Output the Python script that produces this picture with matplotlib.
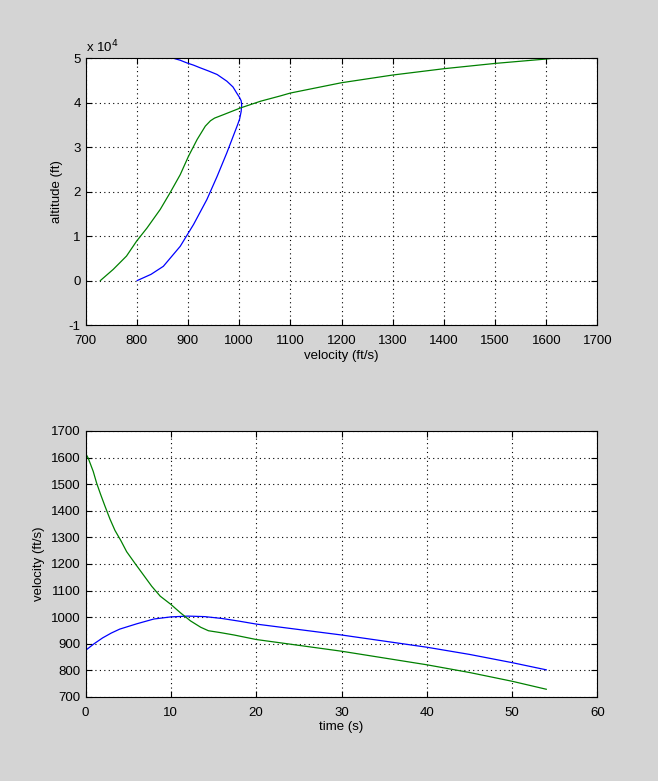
import numpy as np
import matplotlib
matplotlib.use("Agg")
import matplotlib.pyplot as plt

plt.rcParams['font.family'] = ['Liberation Sans', 'DejaVu Sans']
plt.rcParams['font.size'] = 9.5
plt.rcParams['axes.unicode_minus'] = False

# top panel: altitude vs velocity
blue_v_top = [870, 885, 898, 911, 924, 940, 957, 976, 988, 996, 1001, 1004, 1005, 1004, 1001,
              997, 993, 976, 957, 937, 911, 885, 852, 828, 801]
blue_h_top = [50000, 49500, 48900, 48400, 47800, 47100, 46300, 44800, 43500, 42000, 41100,
              40400, 39500, 38000, 36300, 35000, 33800, 28700, 23400, 18200, 12600, 7700,
              3200, 1400, 0]
green_v_top = [729, 754, 780, 800, 820, 846, 865, 885, 901, 918, 934, 944, 952, 970, 1003,
               1042, 1081, 1100, 1200, 1300, 1400, 1500, 1600, 1616]
green_h_top = [0, 2500, 5500, 8900, 11800, 16000, 19700, 23800, 27900, 31700, 34700, 35900,
               36500, 37300, 38800, 40300, 41500, 42130, 44450, 46180, 47600, 48790, 49780,
               50000]

# bottom panel: velocity vs time
blue_t = [0, 1, 2, 3, 4, 6, 8, 10, 12, 14, 16, 18, 20, 30, 40, 45, 50, 54]
blue_v = [875, 900, 922, 940, 955, 975, 993, 1001, 1004, 1002, 995, 985, 974, 933, 887, 860,
          829, 802]
green_t = [0, 0.31, 0.9, 1.29, 1.76, 2.27, 2.86, 3.45, 4.12, 4.82, 5.8, 6.78, 7.76, 8.75,
           10.0, 11.1, 12.3, 13.5, 14.4, 15.8, 17.4, 20, 30, 40, 45, 50, 54]
green_v = [1616, 1598, 1548, 1505, 1462, 1418, 1369, 1326, 1289, 1246, 1202, 1159, 1116, 1079,
           1048, 1017, 986, 962, 949, 942, 933, 916, 872, 821, 792, 759, 729]

BG = '#d4d4d4'
BLUE = '#0000ff'
GREEN = '#008000'

fig = plt.figure(figsize=(6.58, 7.81), dpi=100, facecolor=BG)
ax1 = fig.add_axes([0.13, 0.5838, 0.778, 0.3419])
ax2 = fig.add_axes([0.13, 0.1076, 0.778, 0.3406])


def style(ax):
    ax.set_facecolor('white')
    ax.grid(True, color='black', linestyle=(0, (1, 3)), linewidth=0.8)
    ax.tick_params(direction='in', top=True, right=True, length=4, width=0.8, colors='black')
    ax.tick_params(axis='x', pad=7)
    for s in ax.spines.values():
        s.set_linewidth(0.8)


ax1.plot(blue_v_top, np.array(blue_h_top) / 1e4, color=BLUE, lw=0.9)
ax1.plot(green_v_top, np.array(green_h_top) / 1e4, color=GREEN, lw=0.9)
ax1.set_xlim(700, 1700)
ax1.set_ylim(-1, 5)
ax1.set_xticks(np.arange(700, 1701, 100))
ax1.set_yticks(np.arange(-1, 6, 1))
ax1.set_xlabel('velocity (ft/s)', labelpad=2)
ax1.set_ylabel('altitude (ft)')
ax1.text(0.0, 1.01, r'x 10$^{4}$', transform=ax1.transAxes, ha='left', va='bottom')
style(ax1)

ax2.plot(blue_t, blue_v, color=BLUE, lw=0.9)
ax2.plot(green_t, green_v, color=GREEN, lw=0.9)
ax2.set_xlim(0, 60)
ax2.set_ylim(700, 1700)
ax2.set_xticks(np.arange(0, 61, 10))
ax2.set_yticks(np.arange(700, 1701, 100))
ax2.set_xlabel('time (s)', labelpad=2)
ax2.set_ylabel('velocity (ft/s)')
style(ax2)

fig.savefig('out.png', dpi=100, facecolor=BG)
